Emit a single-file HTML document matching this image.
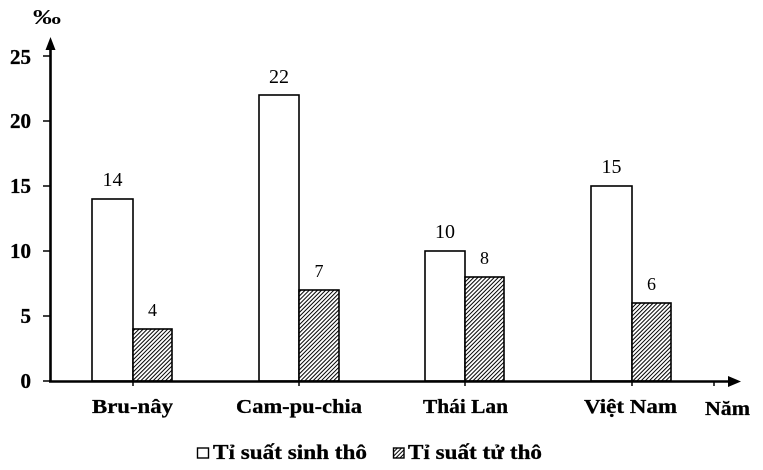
<!DOCTYPE html>
<html><head><meta charset="utf-8"><style>
html,body{margin:0;padding:0;background:#fff;}
svg{display:block;}
text{font-family:"Liberation Serif","Times New Roman",serif;fill:#000;}
.b{font-weight:bold;}
</style></head><body>
<svg width="763" height="470" viewBox="0 0 763 470" xmlns="http://www.w3.org/2000/svg">
<defs>
<pattern id="h" patternUnits="userSpaceOnUse" width="2.9" height="2.9" patternTransform="rotate(45)">
<rect width="2.9" height="2.9" fill="#fff"/>
<line x1="0.5" y1="0" x2="0.5" y2="2.9" stroke="#000" stroke-width="1"/>
</pattern>
</defs>

<!-- per mille -->
<text x="33" y="24" class="b" font-size="21" textLength="28" lengthAdjust="spacingAndGlyphs">‰</text>

<!-- Y axis -->
<line x1="50.5" y1="382" x2="50.5" y2="48" stroke="#000" stroke-width="2.6"/>
<polygon points="50.5,37 45.5,50 55.5,50" fill="#000"/>
<g stroke="#000" stroke-width="1.5">
<line x1="43" y1="381" x2="50" y2="381"/>
<line x1="43" y1="316" x2="50" y2="316"/>
<line x1="43" y1="251" x2="50" y2="251"/>
<line x1="43" y1="186" x2="50" y2="186"/>
<line x1="43" y1="121" x2="50" y2="121"/>
<line x1="43" y1="56" x2="50" y2="56"/>
</g>
<g class="b" font-size="21" text-anchor="end" stroke="#000" stroke-width="0.3">
<text x="31" y="388">0</text>
<text x="31" y="323">5</text>
<text x="31" y="258">10</text>
<text x="31" y="193">15</text>
<text x="31" y="128">20</text>
<text x="31" y="64">25</text>
</g>

<!-- bars -->
<g stroke="#000" stroke-width="1.6">
<rect x="92" y="199" width="41" height="182" fill="#fff"/>
<rect x="133" y="329" width="39" height="52" fill="url(#h)"/>
<rect x="259" y="95" width="40" height="286" fill="#fff"/>
<rect x="299" y="290" width="40" height="91" fill="url(#h)"/>
<rect x="425" y="251" width="40" height="130" fill="#fff"/>
<rect x="465" y="277" width="39" height="104" fill="url(#h)"/>
<rect x="591" y="186" width="41" height="195" fill="#fff"/>
<rect x="632" y="303" width="39" height="78" fill="url(#h)"/>
</g>

<!-- X axis -->
<line x1="49" y1="381.5" x2="729" y2="381.5" stroke="#000" stroke-width="2.6"/>
<polygon points="728,376 741,381.5 728,387" fill="#000"/>
<g stroke="#000" stroke-width="1.5">
<line x1="133" y1="381" x2="133" y2="386"/>
<line x1="299" y1="381" x2="299" y2="386"/>
<line x1="465" y1="381" x2="465" y2="386"/>
<line x1="632" y1="381" x2="632" y2="386"/>
<line x1="714" y1="381" x2="714" y2="386"/>
</g>

<!-- value labels -->
<g font-size="20" text-anchor="middle">
<text x="112.5" y="186">14</text>
<text x="279" y="83">22</text>
<text x="445" y="238">10</text>
<text x="611.5" y="173">15</text>
</g>
<g font-size="18" text-anchor="middle">
<text x="152.5" y="316">4</text>
<text x="319" y="277">7</text>
<text x="484.5" y="264">8</text>
<text x="651.5" y="290">6</text>
</g>

<!-- category labels -->
<g class="b" font-size="20" stroke="#000" stroke-width="0.3">
<text x="92" y="413" textLength="81" lengthAdjust="spacingAndGlyphs">Bru-nây</text>
<text x="236" y="413" textLength="126" lengthAdjust="spacingAndGlyphs">Cam-pu-chia</text>
<text x="423" y="413" textLength="85" lengthAdjust="spacingAndGlyphs">Thái Lan</text>
<text x="584" y="413" textLength="93" lengthAdjust="spacingAndGlyphs">Việt Nam</text>
<text x="705" y="415" textLength="45" lengthAdjust="spacingAndGlyphs">Năm</text>
</g>

<!-- legend -->
<rect x="197.5" y="448" width="11" height="10" fill="#fff" stroke="#000" stroke-width="1.4"/>
<text x="213" y="459" class="b" font-size="21" stroke="#000" stroke-width="0.3" textLength="154" lengthAdjust="spacingAndGlyphs">Tỉ suất sinh thô</text>
<rect x="393.5" y="448" width="10.5" height="10" fill="url(#h)" stroke="#000" stroke-width="1.4"/>
<text x="408" y="459" class="b" font-size="21" stroke="#000" stroke-width="0.3" textLength="134" lengthAdjust="spacingAndGlyphs">Tỉ suất tử thô</text>
</svg>
</body></html>
